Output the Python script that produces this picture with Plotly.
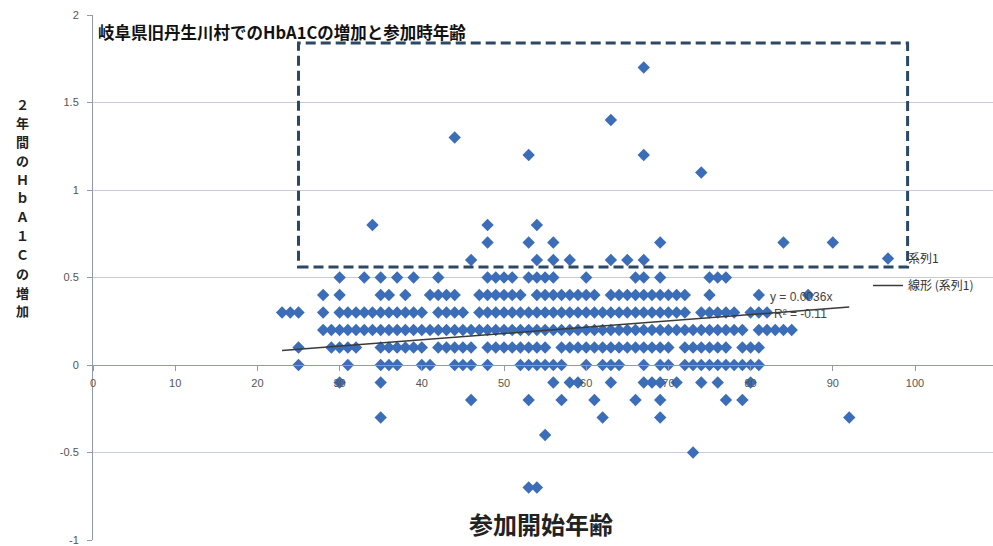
import plotly.graph_objects as go

# Age at enrolment (years) for each observed two-year HbA1C change
ages_p17 = [67]
ages_p14 = [63]
ages_p13 = [44]
ages_p12 = [53, 67]
ages_p11 = [74]
ages_p08 = [34, 48, 54]
ages_p07 = [48, 53, 56, 69, 84, 90]
ages_p06 = [46, 54, 56, 58, 63, 65, 67]
ages_p05 = [30, 33, 35, 37, 39, 42, 48, 49, 50, 51, 53, 54, 55, 56, 60,
            66, 67, 69, 75, 76, 77]
ages_p04 = [28, 30, 35, 36, 38, 41, 42, 43, 44, 47, 48, 49, 50, 51, 52,
            54, 55, 56, 57, 58, 59, 60, 61, 63, 64, 65, 66, 67, 68, 69,
            70, 71, 72, 75, 81, 87]
ages_p03 = [23, 24, 25, 28, 30, 31, 32, 33, 34, 35, 36, 37, 38, 39, 40,
            42, 43, 44, 45, 47, 48, 49, 50, 51, 52, 53, 54, 55, 56, 57,
            58, 59, 60, 61, 62, 63, 64, 65, 66, 67, 68, 69, 70, 71, 72,
            74, 75, 76, 77, 78, 80, 81, 82]
ages_p02 = [28, 29, 30, 31, 32, 33, 34, 35, 36, 37, 38, 39, 40, 41, 42,
            43, 44, 45, 46, 47, 48, 49, 50, 51, 52, 53, 54, 55, 56, 57,
            58, 59, 60, 61, 62, 63, 64, 65, 66, 67, 68, 69, 70, 71, 72,
            73, 74, 75, 76, 77, 78, 79, 81, 82, 83, 84, 85]
ages_p01 = [25, 29, 30, 31, 32, 35, 36, 37, 38, 39, 40, 42, 43, 44, 45,
            46, 48, 49, 50, 51, 52, 53, 54, 55, 57, 58, 59, 60, 61, 62,
            63, 64, 65, 66, 67, 68, 69, 70, 72, 73, 74, 75, 76, 77, 79,
            80, 81]
ages_00 = [25, 31, 35, 36, 37, 40, 41, 44, 45, 46, 48, 52, 53, 54, 55,
           56, 57, 60, 62, 63, 64, 67, 69, 70, 72, 73, 74, 75, 76, 77,
           78, 79, 80, 81]
ages_m01 = [30, 35, 56, 58, 59, 63, 67, 68, 69, 71, 74, 76, 80]
ages_m02 = [46, 53, 57, 61, 66, 69, 77, 79]
ages_m03 = [35, 62, 69, 92]
ages_m04 = [55]
ages_m05 = [73]
ages_m07 = [53, 54]

change_levels = [1.7, 1.4, 1.3, 1.2, 1.1, 0.8, 0.7, 0.6, 0.5, 0.4, 0.3,
                 0.2, 0.1, 0.0, -0.1, -0.2, -0.3, -0.4, -0.5, -0.7]
ages_by_level = [ages_p17, ages_p14, ages_p13, ages_p12, ages_p11,
                 ages_p08, ages_p07, ages_p06, ages_p05, ages_p04,
                 ages_p03, ages_p02, ages_p01, ages_00, ages_m01,
                 ages_m02, ages_m03, ages_m04, ages_m05, ages_m07]

# Linear trendline through the origin, as reported on the chart
trend_slope = 0.0036
trend_label = "y = 0.0036x"
r2_label = "R² = -0.11"

x_ticks = [0, 10, 20, 30, 40, 50, 60, 70, 80, 90, 100]
y_ticks = [-1, -0.5, 0, 0.5, 1, 1.5, 2]
y_tick_text = ["-1", "-0.5", "0", "0.5", "1", "1.5", "2"]

title_text = "岐阜県旧丹生川村でのHbA1Cの増加と参加時年齢"
y_title = "２年間のＨｂＡ１Ｃの増加"
x_title = "参加開始年齢"

ages, changes = [], []
for level, group in zip(change_levels, ages_by_level):
    ages.extend(group)
    changes.extend([level] * len(group))

W, H = 993, 546
ML, MR, MT, MB = 93, 0, 15, 6
PW, PH = W - ML - MR, H - MT - MB

BLUE = "#3b6db8"
GRID = "#c9cadb"
AXIS = "#9298b8"
TXT = "#555555"
CJK = "Noto Sans CJK JP"

fig = go.Figure()

fig.add_trace(go.Scatter(
    x=ages, y=changes, mode="markers", name="系列1",
    marker=dict(symbol="diamond", size=9.5, color=BLUE, line=dict(width=0)),
    legend="legend",
))

x_lo, x_hi = min(ages), max(ages)
fig.add_trace(go.Scatter(
    x=[x_lo, x_hi], y=[trend_slope * x_lo, trend_slope * x_hi],
    mode="lines", name="線形 (系列1)",
    line=dict(color="#3a3a3a", width=1.5),
    legend="legend2",
))

x_max = PW / 8.22

fig.update_layout(
    width=W, height=H,
    margin=dict(l=ML, r=MR, t=MT, b=MB),
    paper_bgcolor="white", plot_bgcolor="white",
    font=dict(family=CJK, color=TXT),
    title=dict(
        text=title_text, x=98 / W, xanchor="left",
        y=1 - 33 / H, yanchor="middle",
        font=dict(family=CJK, size=16.5, color="#111111", weight="bold"),
    ),
    xaxis=dict(
        range=[0, x_max], domain=[0, 1],
        anchor="free", position=1 / 3,
        tickvals=x_ticks, ticks="outside", ticklen=5, tickcolor=AXIS,
        ticklabelstandoff=3, layer="above traces",
        showline=True, linecolor=AXIS, linewidth=1,
        showgrid=False, zeroline=False,
        tickfont=dict(family="Liberation Sans", size=11, color=TXT),
    ),
    yaxis=dict(
        range=[-1, 2], domain=[0, 1],
        tickvals=y_ticks, ticktext=y_tick_text,
        ticks="outside", ticklen=5, tickcolor=AXIS,
        ticklabelstandoff=6,
        showline=True, linecolor=AXIS, linewidth=1,
        showgrid=True, gridcolor=GRID, gridwidth=1, zeroline=False,
        tickfont=dict(family="Liberation Sans", size=11, color=TXT),
    ),
    legend=dict(
        x=(868 - ML) / PW, y=(H - MB - 244) / PH, xanchor="left", yanchor="top",
        bgcolor="rgba(0,0,0,0)", borderwidth=0,
        font=dict(family=CJK, size=12, color="#333333"),
    ),
    legend2=dict(
        x=(868 - ML) / PW, y=(H - MB - 271) / PH, xanchor="left", yanchor="top",
        bgcolor="rgba(0,0,0,0)", borderwidth=0,
        font=dict(family=CJK, size=12, color="#333333"),
    ),
    showlegend=True,
)

# Dashed frame around the large increases
fig.add_shape(
    type="rect", xref="x", yref="y",
    x0=25, x1=99.1, y0=0.56, y1=1.84,
    line=dict(color="#2b4866", width=3, dash="10px,5px"),
    fillcolor="rgba(0,0,0,0)", layer="above",
)

# Vertical axis title, one character per row
char_step = 18.8
first_row = 104
for i, ch in enumerate(y_title):
    fig.add_annotation(
        text=ch, xref="paper", yref="paper",
        x=(22 - ML) / PW, y=(H - MB - (first_row + i * char_step)) / PH,
        xanchor="center", yanchor="middle", showarrow=False,
        font=dict(family=CJK, size=13, color="#222222", weight="bold"),
    )

fig.add_annotation(
    text=x_title, xref="paper", yref="paper",
    x=(541 - ML) / PW, y=(H - MB - 523) / PH, xanchor="center", yanchor="middle",
    showarrow=False,
    font=dict(family=CJK, size=24, color="#222222", weight="bold"),
)

# Trendline equation and R² label
fig.add_annotation(
    text=trend_label, xref="paper", yref="paper",
    x=(768 - ML) / PW, y=(H - MB - 297) / PH, xanchor="left", yanchor="middle",
    showarrow=False, font=dict(family="Liberation Sans", size=12, color="#444444"),
)
fig.add_annotation(
    text=r2_label, xref="paper", yref="paper",
    x=(772 - ML) / PW, y=(H - MB - 314) / PH, xanchor="left", yanchor="middle",
    showarrow=False, font=dict(family="Liberation Sans", size=12, color="#444444"),
)

fig.write_html("out.html")
